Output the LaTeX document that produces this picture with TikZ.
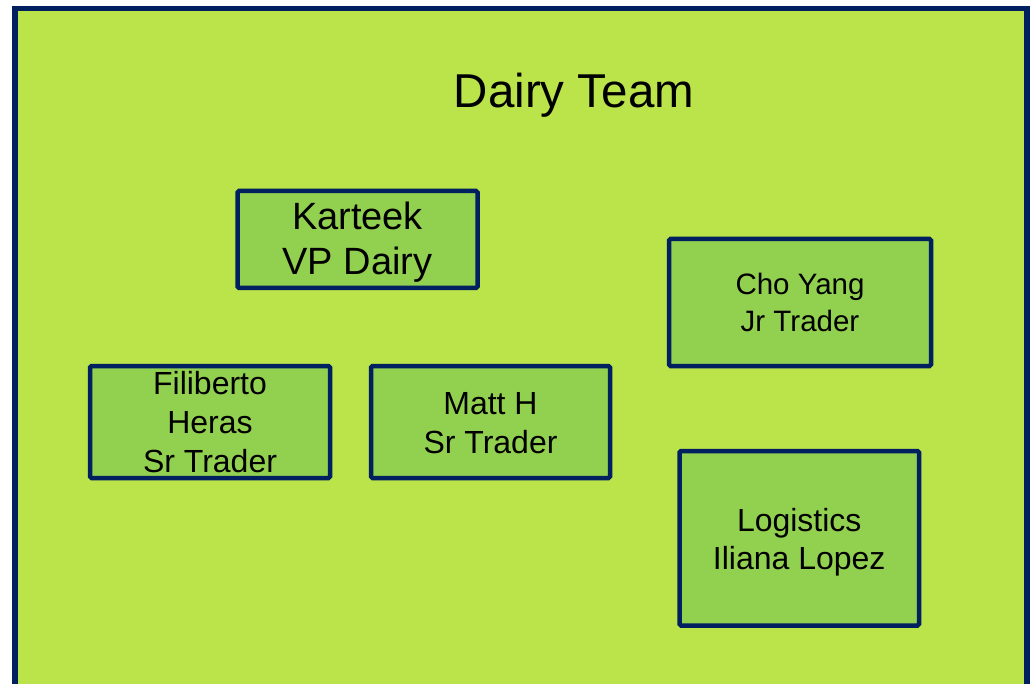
\documentclass[tikz,border=0pt]{standalone}
\usepackage{fontspec}
\setmainfont{Liberation Sans}
\definecolor{bg}{HTML}{BBE34A}
\definecolor{boxfill}{HTML}{92D050}
\definecolor{navy}{HTML}{002060}
\newcommand{\lowerby}[2]{\raisebox{-#1}[\height][\depth]{#2}}
\begin{document}
\begin{tikzpicture}[x=1pt,y=-1pt,
  box/.style={draw=navy, fill=boxfill, line width=4.5pt, rounded corners=1.5pt,
    align=center, inner sep=0pt, text=black},
  frame/.style={draw=navy, fill=bg, line width=5.4pt}]
\useasboundingbox (0,0) rectangle (1030,684);
\fill[white] (0,0) rectangle (1030,684);
\clip (0,0) rectangle (1030,684);
\path[frame] (15,8.3) rectangle (1027,720);
\node[anchor=base, font=\fontsize{47.5}{57}\selectfont] (title) at (574,108) {Dairy Team};
\node[box, minimum width=240pt, minimum height=97pt, font=\fontsize{38}{45}\selectfont] (karteek) at (357.5,239.5) {\lowerby{2.5pt}{Karteek}\\\lowerby{2.5pt}{VP Dairy}};
\node[box, minimum width=262pt, minimum height=127pt, font=\fontsize{29.5}{37}\selectfont] (cho) at (800,302.5) {Cho Yang\\Jr Trader};
\node[box, minimum width=240pt, minimum height=112pt, font=\fontsize{32}{39}\selectfont] (fil) at (210,422) {Filiberto\\Heras\\Sr Trader};
\node[box, minimum width=239pt, minimum height=112pt, font=\fontsize{32}{39}\selectfont] (matt) at (490.5,422) {\lowerby{1.5pt}{Matt H}\\\lowerby{1.5pt}{Sr Trader}};
\node[box, minimum width=239.5pt, minimum height=174.5pt, font=\fontsize{32}{38}\selectfont] (log) at (799.25,538.25) {\lowerby{4pt}{Logistics}\\\lowerby{4pt}{Iliana Lopez}};
\end{tikzpicture}
\end{document}
